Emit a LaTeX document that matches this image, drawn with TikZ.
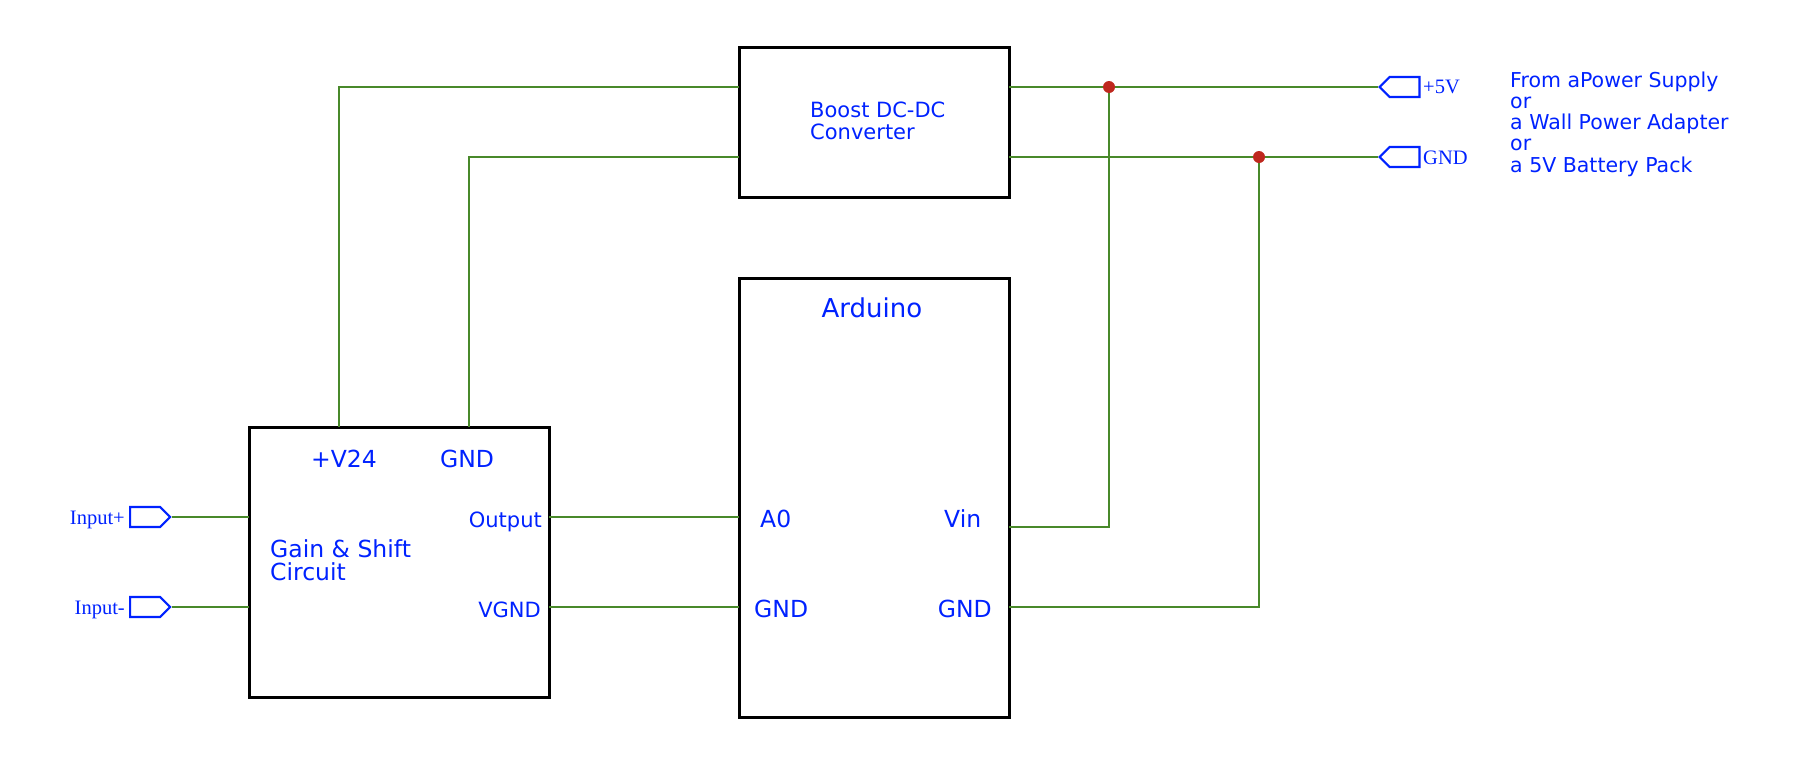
\documentclass[tikz,border=0pt]{standalone}
\usepackage{fontspec}
\usepackage{xcolor}
\usetikzlibrary{shapes.symbols}
\newfontfamily\lblfont{DejaVu Sans}
\newfontfamily\portfont{Liberation Serif}
\definecolor{lblblue}{RGB}{0,34,255}
\definecolor{wiregreen}{RGB}{72,137,42}
\definecolor{dotred}{RGB}{190,40,30}

\begin{document}
\begin{tikzpicture}[x=1pt,y=-1pt,
    block/.style={draw=black,line width=3pt,inner sep=0pt},
    wire/.style={wiregreen,line width=2.5pt},
    lbl/.style={lblblue,inner sep=0pt,align=left},
    port/.style={signal,signal to=east,signal pointer angle=90,draw=lblblue,line width=2.2pt,
        minimum width=40pt,minimum height=20pt,inner sep=0pt},
    rport/.style={port,signal to=west},
    portlbl/.style={lblblue,inner sep=0pt,font=\portfont\fontsize{20.5}{22}\selectfont}]
    \useasboundingbox (0,0) rectangle (1796,756);

    % Blocks
    \node[block,minimum width=270pt,minimum height=150pt] (boost) at (874,122) {};
    \node[block,minimum width=270pt,minimum height=439pt] (ard) at (874,497.5) {};
    \node[block,minimum width=300pt,minimum height=270pt] (gain) at (399,562) {};

    % Pins
    \coordinate (gV24) at (339,427);
    \coordinate (gGND) at (469,427);
    \coordinate (gIn1) at (249,517);
    \coordinate (gIn2) at (249,607);
    \coordinate (gOut) at (549,517);
    \coordinate (gVGND) at (549,607);
    \coordinate (bIn1) at (739,87);
    \coordinate (bIn2) at (739,157);
    \coordinate (bOut1) at (1009,87);
    \coordinate (bOut2) at (1009,157);
    \coordinate (aA0) at (739,517);
    \coordinate (aGND1) at (739,607);
    \coordinate (aVin) at (1009,527);
    \coordinate (aGND2) at (1009,607);
    \coordinate (j1) at (1109,87);
    \coordinate (j2) at (1259,157);

    % Ports
    \node[port,anchor=west] (inp) at (129,517) {};
    \node[port,anchor=west] (inm) at (129,607) {};
    \node[rport,anchor=west] (p5v) at (1378,87) {};
    \node[rport,anchor=west] (pgnd) at (1378,157) {};
    \node[portlbl,anchor=base east] (tinp) at (125,524) {Input+};
    \node[portlbl,anchor=base east] (tinm) at (125,614) {Input-};
    \node[portlbl,anchor=base west] (t5v) at (1423,93) {+5V};
    \node[portlbl,anchor=base west] (tgnd) at (1423,164) {GND};

    % Wires
    \draw[wire] (gV24) |- (bIn1);
    \draw[wire] (gGND) |- (bIn2);
    \draw[wire] (inp.east) -- (gIn1);
    \draw[wire] (inm.east) -- (gIn2);
    \draw[wire] (gOut) -- (aA0);
    \draw[wire] (gVGND) -- (aGND1);
    \draw[wire] (bOut1) -- (p5v.west);
    \draw[wire] (bOut2) -- (pgnd.west);
    \draw[wire] (aVin) -| (j1);
    \draw[wire] (aGND2) -| (j2);
    \fill[dotred] (j1) circle (6pt);
    \fill[dotred] (j2) circle (6pt);

    % Labels
    \node[lbl,anchor=base west,font=\lblfont\fontsize{21}{22}\selectfont] at (810,139) {Boost DC-DC\\Converter};
    \node[lbl,anchor=base,font=\lblfont\fontsize{26}{28}\selectfont] at (872,317) {Arduino};
    \node[lbl,anchor=base west,font=\lblfont\fontsize{23.5}{23}\selectfont] at (270,580) {Gain \& Shift\\Circuit};
    \node[lbl,anchor=base west,font=\lblfont\fontsize{23.5}{24}\selectfont] at (311,467) {+V24};
    \node[lbl,anchor=base west,font=\lblfont\fontsize{23.5}{24}\selectfont] at (440,467) {GND};
    \node[lbl,anchor=base east,font=\lblfont\fontsize{21}{22}\selectfont] at (542,527) {Output};
    \node[lbl,anchor=base east,font=\lblfont\fontsize{21}{22}\selectfont] at (541,617) {VGND};
    \node[lbl,anchor=base west,font=\lblfont\fontsize{23.5}{24}\selectfont] at (760,527) {A0};
    \node[lbl,anchor=base west,font=\lblfont\fontsize{23.5}{24}\selectfont] at (754,617) {GND};
    \node[lbl,anchor=base west,font=\lblfont\fontsize{23.5}{24}\selectfont] at (944,527) {Vin};
    \node[lbl,anchor=base east,font=\lblfont\fontsize{23.5}{24}\selectfont] at (992,617) {GND};
    \node[lbl,anchor=base west,font=\lblfont\fontsize{20.5}{21.2}\selectfont] at (1510,172) {From aPower Supply\\or\\a Wall Power Adapter\\or\\a 5V Battery Pack};
\end{tikzpicture}
\end{document}
